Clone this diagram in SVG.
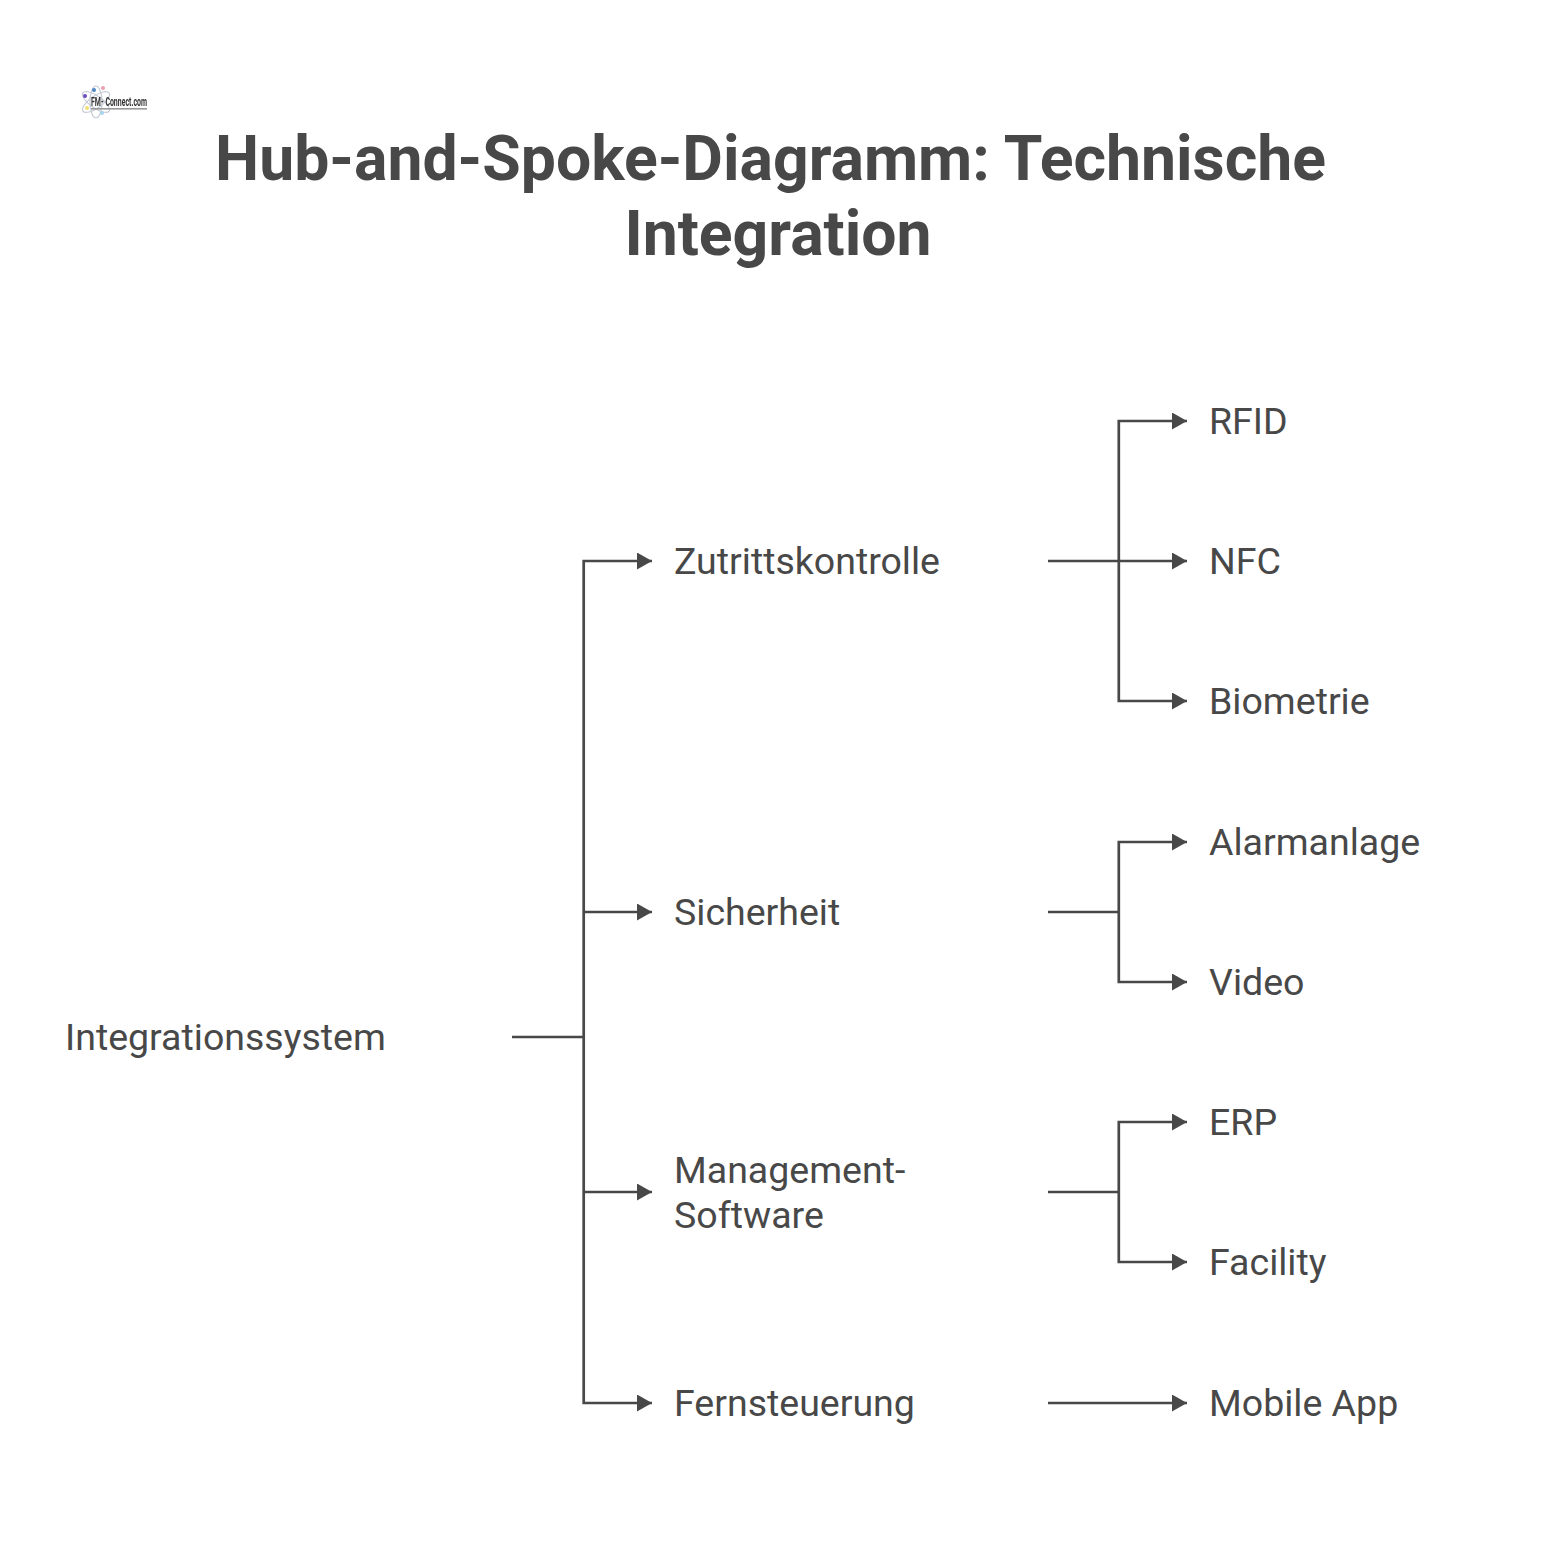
<svg xmlns="http://www.w3.org/2000/svg" width="1558" height="1553" viewBox="0 0 1558 1553">
<style>
.t{font-family:Roboto,"Liberation Sans",sans-serif;fill:#484848}
.h{font-size:62.5px;font-weight:700;text-anchor:middle}
.n{font-size:37.5px}
.c{fill:none;stroke:#484848;stroke-width:2.7}
</style>
<defs>
<marker id="a" markerUnits="userSpaceOnUse" markerWidth="16" markerHeight="18" refX="15" refY="8.5" orient="auto"><path d="M0 0L15 8.5L0 17Z" fill="#484848"/></marker>
<filter id="b" x="-10%" y="-10%" width="120%" height="120%"><feGaussianBlur stdDeviation="0.6"/></filter>
</defs>
<rect width="1558" height="1553" fill="#fff"/>
<g id="logo" filter="url(#b)">
<g fill="none" stroke="#c5ccd6" stroke-width="1.2">
<ellipse cx="96" cy="102" rx="16" ry="6" transform="rotate(35 96 102)"/>
<ellipse cx="96" cy="102" rx="16" ry="6" transform="rotate(-35 96 102)"/>
<ellipse cx="96" cy="102" rx="16" ry="6" transform="rotate(90 96 102)"/>
</g>
<circle cx="85" cy="96" r="2" fill="#6a4cc0"/>
<circle cx="94" cy="90" r="2" fill="#4f86c6"/>
<circle cx="103" cy="88" r="2" fill="#e8a0b0"/>
<circle cx="87" cy="108" r="2" fill="#f0e070"/>
<circle cx="102" cy="113" r="2" fill="#a8d4ee"/>
<text x="91" y="106" font-family="Roboto,sans-serif" font-size="13" font-weight="700" fill="#333" textLength="56" lengthAdjust="spacingAndGlyphs">FM- Connect.com</text>
<rect x="91" y="108" width="56" height="1.6" fill="#999"/>
</g>
<g id="title"><text class="t h" x="770.5" y="180">Hub-and-Spoke-Diagramm: Technische</text><text class="t h" x="778" y="255">Integration</text></g>
<g id="connectors">
<path class="c" d="M512 1037H583.7"/>
<path class="c" d="M583.7 1037V561H652" marker-end="url(#a)"/>
<path class="c" d="M583.7 912H652" marker-end="url(#a)"/>
<path class="c" d="M583.7 1037V1403H652" marker-end="url(#a)"/>
<path class="c" d="M583.7 1192H652" marker-end="url(#a)"/>
<path class="c" d="M1048 561H1187" marker-end="url(#a)"/>
<path class="c" d="M1118.8 561V421H1187" marker-end="url(#a)"/>
<path class="c" d="M1118.8 561V701H1187" marker-end="url(#a)"/>
<path class="c" d="M1048 912H1118.8"/>
<path class="c" d="M1118.8 912V842H1187" marker-end="url(#a)"/>
<path class="c" d="M1118.8 912V982H1187" marker-end="url(#a)"/>
<path class="c" d="M1048 1192H1118.8"/>
<path class="c" d="M1118.8 1192V1122H1187" marker-end="url(#a)"/>
<path class="c" d="M1118.8 1192V1262H1187" marker-end="url(#a)"/>
<path class="c" d="M1048 1403H1187" marker-end="url(#a)"/>
</g>
<g id="n-integrationssystem"><text class="t n" x="65" y="1050">Integrationssystem</text></g>
<g id="n-zutritt"><text class="t n" x="674" y="574">Zutrittskontrolle</text></g>
<g id="n-sicherheit"><text class="t n" x="674" y="925">Sicherheit</text></g>
<g id="n-management"><text class="t n" x="674" y="1183">Management-</text><text class="t n" x="674" y="1228">Software</text></g>
<g id="n-fern"><text class="t n" x="674" y="1416">Fernsteuerung</text></g>
<g id="n-rfid"><text class="t n" x="1209" y="434">RFID</text></g>
<g id="n-nfc"><text class="t n" x="1209" y="574">NFC</text></g>
<g id="n-bio"><text class="t n" x="1209" y="714">Biometrie</text></g>
<g id="n-alarm"><text class="t n" x="1209" y="855">Alarmanlage</text></g>
<g id="n-video"><text class="t n" x="1209" y="995">Video</text></g>
<g id="n-erp"><text class="t n" x="1209" y="1135">ERP</text></g>
<g id="n-facility"><text class="t n" x="1209" y="1275">Facility</text></g>
<g id="n-app"><text class="t n" x="1209" y="1416">Mobile App</text></g>
</svg>
